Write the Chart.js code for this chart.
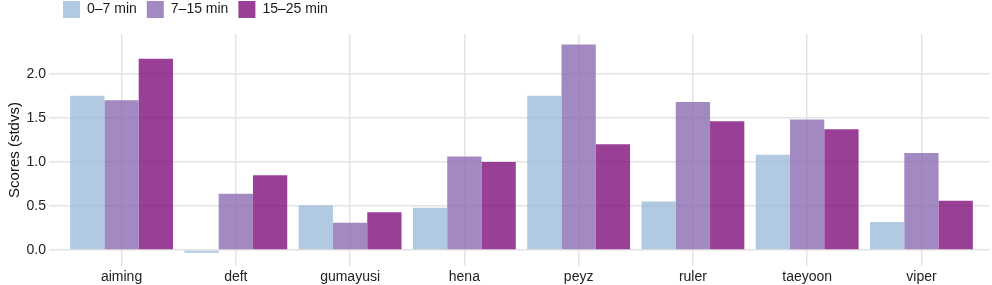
<!DOCTYPE html>
<html>
<head>
<meta charset="utf-8">
<script src="https://cdn.jsdelivr.net/npm/chart.js@4/dist/chart.umd.min.js"></script>
<style>
  html, body { margin: 0; padding: 0; background: #fff; }
  #wrap { width: 992px; height: 285px; position: relative; }
</style>
</head>
<body>
<div id="wrap"><canvas id="c"></canvas></div>
<script>
const categories = ["aiming", "deft", "gumayusi", "hena", "peyz", "ruler", "taeyoon", "viper"];
const seriesNames = ["0\u20137 min", "7\u201315 min", "15\u201325 min"];
const early = [1.75, -0.03, 0.51, 0.48, 1.75, 0.55, 1.08, 0.32];
const mid   = [1.70, 0.64, 0.31, 1.06, 2.33, 1.68, 1.48, 1.10];
const late  = [2.17, 0.85, 0.43, 1.00, 1.20, 1.46, 1.37, 0.56];
const yTicks = [0, 0.5, 1.0, 1.5, 2.0];

const colors = ["rgba(158,188,218,0.8)", "rgba(140,107,177,0.8)", "rgba(129,15,124,0.8)"];
const FONT = "'Liberation Sans', Arial, Helvetica, sans-serif";

function toPoints(arr) { return arr.map((v, i) => ({ x: i + 1, y: v })); }

const datasets = [early, mid, late].map((arr, k) => ({
  label: seriesNames[k],
  data: toPoints(arr),
  backgroundColor: colors[k],
  borderWidth: 0,
  categoryPercentage: 0.9,
  barPercentage: 1.0
}));

const legendShift = {
  id: 'legendShift',
  afterLayout(chart) {
    const lg = chart.legend;
    if (lg) { lg.top -= 9; lg.bottom -= 9; }
  }
};

new Chart(document.getElementById('c'), {
  type: 'bar',
  data: { datasets },
  plugins: [legendShift],
  options: {
    responsive: true,
    maintainAspectRatio: false,
    animation: false,
    layout: { padding: { top: 0, right: 2, bottom: 0, left: 0 } },
    plugins: {
      tooltip: { enabled: false },
      legend: {
        position: 'top',
        align: 'start',
        fullSize: false,
        maxHeight: 34,
        labels: {
          boxWidth: 17,
          boxHeight: 17,
          padding: 10,
          color: '#1a1a1a',
          font: { family: FONT, size: 14 }
        }
      }
    },
    scales: {
      x: {
        type: 'linear',
        min: 0.4,
        max: 8.6,
        offset: false,
        afterBuildTicks: (s) => { s.ticks = categories.map((c, i) => ({ value: i + 1 })); },
        afterFit: (s) => { s.height = 19; },
        ticks: {
          callback: (v) => categories[v - 1] || '',
          color: '#222',
          font: { family: FONT, size: 14 },
          padding: 3,
          maxRotation: 0,
          autoSkip: false
        },
        grid: { color: '#E3E3E3', lineWidth: 1.5, drawTicks: false, offset: false },
        border: { display: false }
      },
      y: {
        min: -0.18,
        max: 2.45,
        afterBuildTicks: (s) => { s.ticks = yTicks.map(v => ({ value: v })); },
        afterFit: (s) => { s.width = 53; },
        ticks: {
          callback: (v) => Number(v).toFixed(1),
          color: '#222',
          font: { family: FONT, size: 14 },
          padding: 3
        },
        grid: { color: '#E3E3E3', lineWidth: 1.5, drawTicks: true, tickLength: 4 },
        border: { display: false },
        title: {
          display: true,
          text: 'Scores (stdvs)',
          color: '#111',
          font: { family: FONT, size: 15 },
          padding: { top: 6, bottom: 2 }
        }
      }
    }
  }
});
</script>
</body>
</html>
